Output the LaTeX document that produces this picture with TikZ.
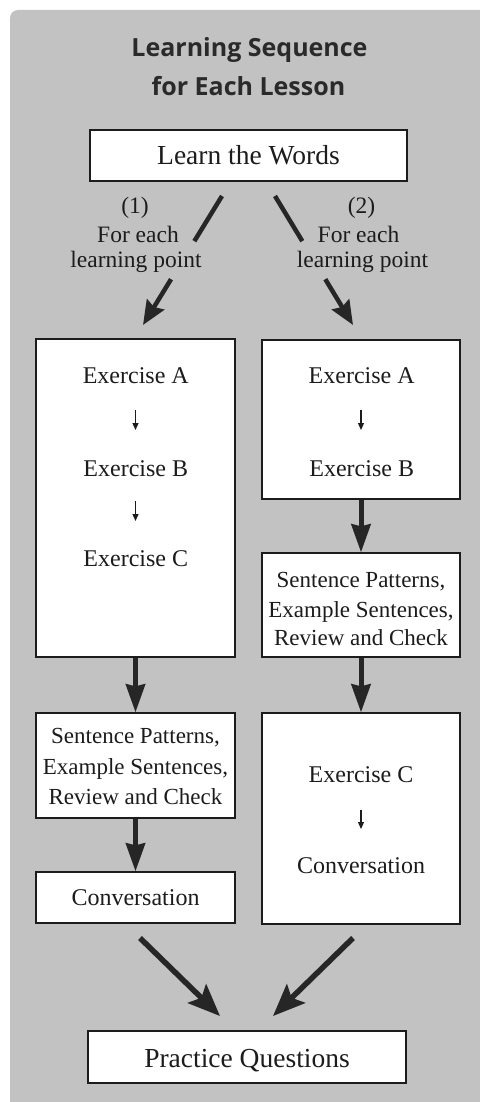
\documentclass[tikz,border=0pt]{standalone}
\usepackage{fontspec}
\setmainfont{Liberation Serif}
\newfontfamily\titlefont{Open Sans}
\usetikzlibrary{arrows.meta,calc}
\definecolor{bgc}{RGB}{194,194,194}
\definecolor{inkc}{RGB}{28,28,28}
\definecolor{arrc}{RGB}{38,38,38}
\definecolor{titlec}{RGB}{42,42,42}
\begin{document}
\begin{tikzpicture}[x=1pt,y=-1pt,
  box/.style={draw=inkc, line width=1.3pt, fill=white, inner sep=0pt, rectangle},
  txt/.style={anchor=base, inner sep=0pt, text=inkc, font=\fontsize{24}{28}\selectfont},
  bigtxt/.style={anchor=base, inner sep=0pt, text=inkc, font=\fontsize{27.5}{30}\selectfont},
  sptxt/.style={anchor=base, inner sep=0pt, text=inkc, font=\fontsize{23}{28}\selectfont},
  lbl/.style={anchor=base, inner sep=0pt, text=inkc, font=\fontsize{23.5}{27}\selectfont},
  title/.style={anchor=base, inner sep=0pt, text=titlec, font=\titlefont\bfseries\fontsize{25}{29}\selectfont},
  vertarr/.style={draw=arrc, line width=5pt, -{Stealth[length=28pt,width=19pt,inset=2pt]}},
  topline/.style={draw=arrc, line width=4.5pt},
  toparr/.style={draw=arrc, line width=4.5pt, -{Stealth[length=24pt,width=20pt,inset=3pt]}},
  botarr/.style={draw=arrc, line width=5.5pt, -{Stealth[length=32pt,width=26pt,inset=6pt]}},
  smallarr/.style={draw=inkc, line width=1.2pt, -{Triangle[length=7pt,width=6pt]}}
]
\useasboundingbox (0,0) rectangle (479,1102);
\fill[bgc, rounded corners=8pt] (10,10) rectangle (530,1150);

% title
\node[title] (t1) at (249.5,57) {Learning Sequence};
\node[title] (t2) at (248.5,96) {for Each Lesson};

% Learn the words
\node[box, minimum width=317pt, minimum height=51pt] (learn) at (248.5,155.5) {};
\node[bigtxt] (learnt) at (248.5,165) {Learn the Words};

% labels
\node[lbl] (n1) at (135,213) {(1)};
\node[lbl] (f1) at (138,242) {For each};
\node[lbl] (g1) at (136,267) {learning point};
\node[lbl] (n2) at (361.5,213) {(2)};
\node[lbl] (f2) at (358.5,242) {For each};
\node[lbl] (g2) at (362.5,267) {learning point};

% top connectors
\coordinate (s1) at (222,196);
\coordinate (e1) at (143,325);
\coordinate (s2) at (275,196);
\coordinate (e2) at (353,325);
\draw[topline] (s1) -- ($(s1)!0.35!(e1)$);
\draw[toparr] ($(s1)!0.645!(e1)$) -- (e1);
\draw[topline] (s2) -- ($(s2)!0.35!(e2)$);
\draw[toparr] ($(s2)!0.645!(e2)$) -- (e2);

% left column
\node[box, minimum width=199pt, minimum height=318pt] (L1) at (135.5,498) {};
\node[txt] (L1a) at (135.8,383) {Exercise A};
\node[txt] (L1b) at (135.8,476) {Exercise B};
\node[txt] (L1c) at (135.8,566) {Exercise C};
\coordinate (L1ab1) at (135.5,410);
\coordinate (L1ab2) at (135.5,430);
\coordinate (L1bc1) at (135.5,501);
\coordinate (L1bc2) at (135.5,521);
\draw[smallarr] (L1ab1) -- (L1ab2);
\draw[smallarr] (L1bc1) -- (L1bc2);

\node[box, minimum width=199pt, minimum height=105pt] (L2) at (135.5,765.5) {};
\node[sptxt] (L2a) at (135.5,743) {Sentence Patterns,};
\node[sptxt] (L2b) at (135.5,774) {Example Sentences,};
\node[sptxt] (L2c) at (135.5,804) {Review and Check};

\node[box, minimum width=199pt, minimum height=51pt] (L3) at (135.5,897.5) {};
\node[txt] (L3a) at (135.5,905) {Conversation};

\draw[vertarr] (L1.south) -- (L2.north);
\draw[vertarr] (L2.south) -- (L3.north);

% right column
\node[box, minimum width=198pt, minimum height=159pt] (R1) at (361,419.5) {};
\node[txt] (R1a) at (361.7,383) {Exercise A};
\node[txt] (R1b) at (361.7,476) {Exercise B};
\coordinate (R1ab1) at (361,410);
\coordinate (R1ab2) at (361,430);
\draw[smallarr] (R1ab1) -- (R1ab2);

\node[box, minimum width=198pt, minimum height=104pt] (R2) at (361,605) {};
\node[sptxt] (R2a) at (361,587) {Sentence Patterns,};
\node[sptxt] (R2b) at (361,617) {Example Sentences,};
\node[sptxt] (R2c) at (361,645) {Review and Check};

\node[box, minimum width=198pt, minimum height=211pt] (R3) at (361,818.5) {};
\node[txt] (R3a) at (361,782) {Exercise C};
\coordinate (R3ab1) at (361,810);
\coordinate (R3ab2) at (361,829);
\draw[smallarr] (R3ab1) -- (R3ab2);
\node[txt] (R3b) at (361,873) {Conversation};

\draw[vertarr] (R1.south) -- (R2.north);
\draw[vertarr] (R2.south) -- (R3.north);

% practice questions
\node[box, minimum width=318pt, minimum height=52pt] (PQ) at (247,1057) {};
\node[bigtxt] (PQt) at (247,1067) {Practice Questions};

\coordinate (b1s) at (140,938);
\coordinate (b1e) at (220,1016);
\coordinate (b2s) at (353,938);
\coordinate (b2e) at (273,1016);
\draw[botarr] (b1s) -- (b1e);
\draw[botarr] (b2s) -- (b2e);
\end{tikzpicture}
\end{document}
